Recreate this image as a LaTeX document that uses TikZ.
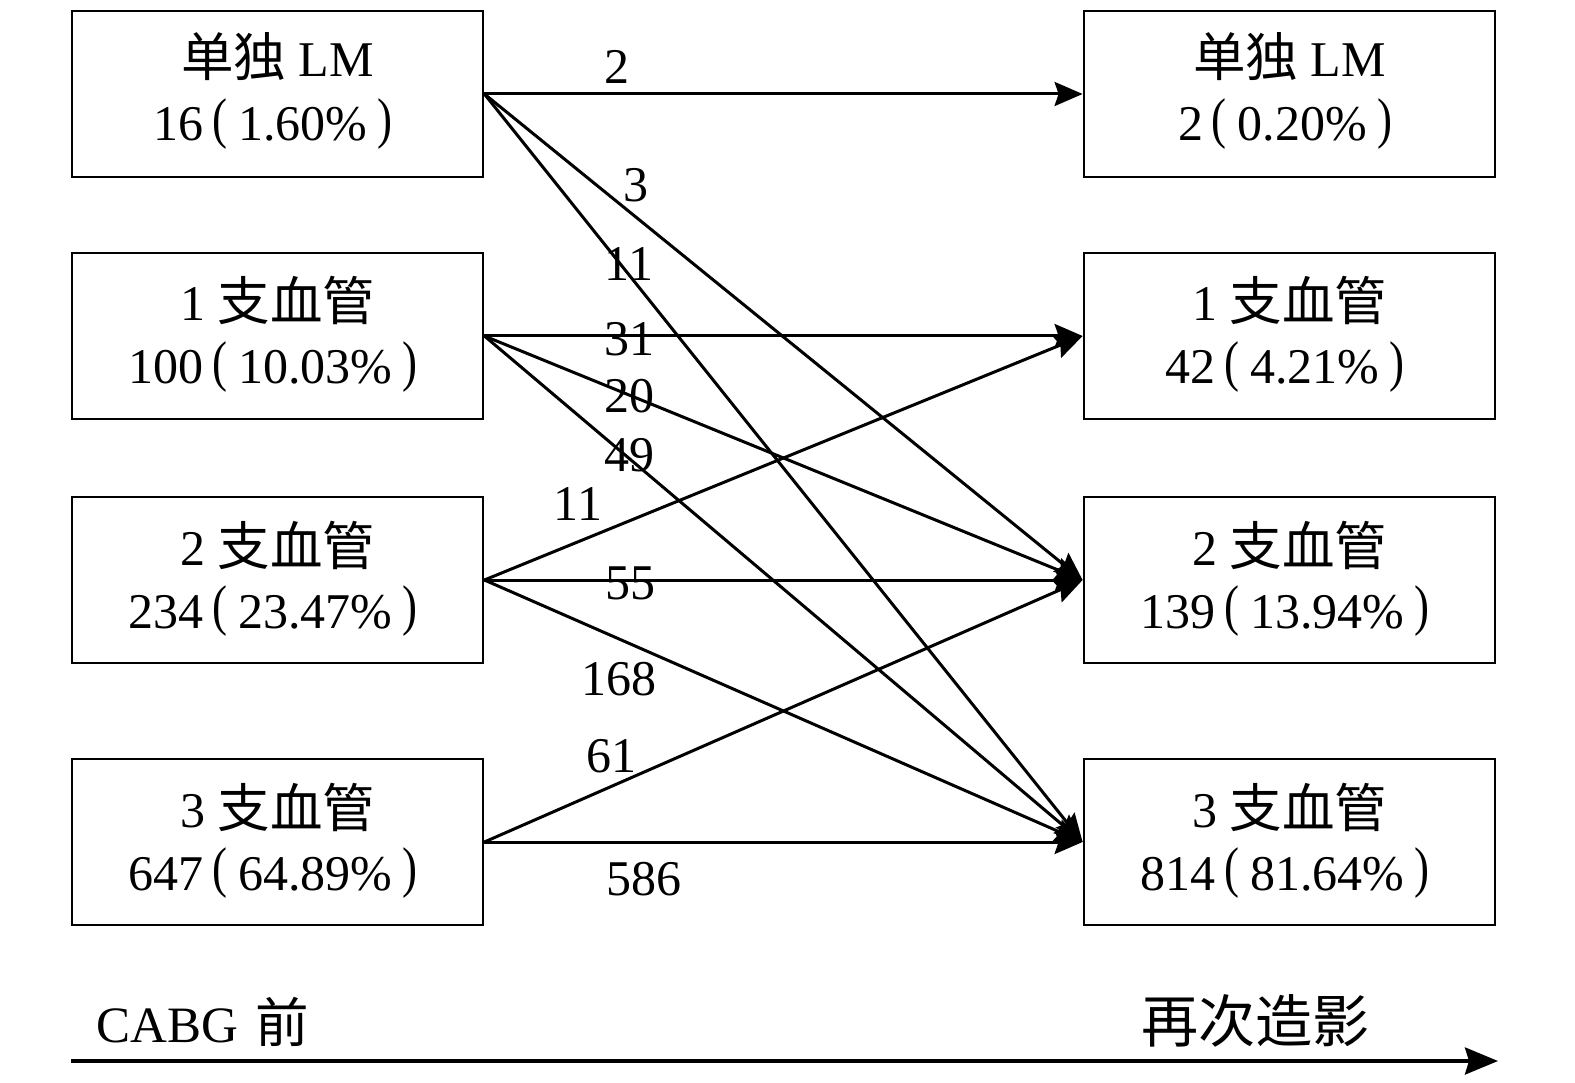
\documentclass[tikz,border=0pt]{standalone}
\usepackage{fontspec}
\setmainfont{Liberation Serif}
\newfontfamily\cjk[Scale=1.05]{Noto Sans CJK SC}
\usetikzlibrary{arrows.meta}
\newcommand\lp{\kern0.17em\raisebox{0.07em}{\scalebox{0.9}[1.12]{(}}\kern0.22em}
\newcommand\rp{\kern0.2em\raisebox{0.07em}{\scalebox{0.9}[1.12]{)}}\kern0.17em}
\begin{document}
\begin{tikzpicture}[x=1pt,y=-1pt,
  box/.style={draw, line width=2.8pt, minimum width=411pt, minimum height=166pt, inner sep=0pt},
  conn/.style={line width=3pt, -{Stealth[length=28pt,width=24pt,inset=4pt]}},
  lab/.style={inner sep=0pt, font=\fontsize{50}{50}\selectfont},
  txt/.style={inner sep=0pt, anchor=base, font=\fontsize{50}{50}\selectfont},
  captext/.style={inner sep=0pt, anchor=base west, font=\fontsize{51}{51}\selectfont}]
\useasboundingbox (0,0) rectangle (1575,1083);
% boxes
\node[box] (L1) at (277.5,94) {};
\node[box] (L2) at (277.5,336) {};
\node[box] (L3) at (277.5,580) {};
\node[box] (L4) at (277.5,842) {};
\node[box] (R1) at (1289.5,94) {};
\node[box] (R2) at (1289.5,336) {};
\node[box] (R3) at (1289.5,580) {};
\node[box] (R4) at (1289.5,842) {};
% box texts
\node[txt] (L1a) at ([yshift=17pt]L1.center) {{\cjk 单独} LM};
\node[txt] (L1b) at ([yshift=-47pt]L1.center) {16\lp 1.60\%\rp};
\node[txt] (L2a) at ([yshift=15pt]L2.center) {1 {\cjk 支血管}};
\node[txt] (L2b) at ([yshift=-48pt]L2.center) {100\lp 10.03\%\rp};
\node[txt] (L3a) at ([yshift=15pt]L3.center) {2 {\cjk 支血管}};
\node[txt] (L3b) at ([yshift=-48pt]L3.center) {234\lp 23.47\%\rp};
\node[txt] (L4a) at ([yshift=15pt]L4.center) {3 {\cjk 支血管}};
\node[txt] (L4b) at ([yshift=-48pt]L4.center) {647\lp 64.89\%\rp};
\node[txt] (R1a) at ([yshift=17pt]R1.center) {{\cjk 单独} LM};
\node[txt] (R1b) at ([yshift=-47pt]R1.center) {2\lp 0.20\%\rp};
\node[txt] (R2a) at ([yshift=15pt]R2.center) {1 {\cjk 支血管}};
\node[txt] (R2b) at ([yshift=-48pt]R2.center) {42\lp 4.21\%\rp};
\node[txt] (R3a) at ([yshift=15pt]R3.center) {2 {\cjk 支血管}};
\node[txt] (R3b) at ([yshift=-48pt]R3.center) {139\lp 13.94\%\rp};
\node[txt] (R4a) at ([yshift=15pt]R4.center) {3 {\cjk 支血管}};
\node[txt] (R4b) at ([yshift=-48pt]R4.center) {814\lp 81.64\%\rp};
% connectors
\draw[conn] (L1.east) -- (R1.west);
\draw[conn] (L1.east) -- (R3.west);
\draw[conn] (L1.east) -- (R4.west);
\draw[conn] (L2.east) -- (R2.west);
\draw[conn] (L2.east) -- (R3.west);
\draw[conn] (L2.east) -- (R4.west);
\draw[conn] (L3.east) -- (R2.west);
\draw[conn] (L3.east) -- (R3.west);
\draw[conn] (L3.east) -- (R4.west);
\draw[conn] (L4.east) -- (R3.west);
\draw[conn] (L4.east) -- (R4.west);
% connector labels
\node[lab] (n2)   at (617,67)  {2};
\node[lab] (n3)   at (636,185) {3};
\node[lab] (n11a) at (629,264) {11};
\node[lab] (n31)  at (629,339) {31};
\node[lab] (n20)  at (629,396) {20};
\node[lab] (n49)  at (629,455) {49};
\node[lab] (n11b) at (578,504) {11};
\node[lab] (n55)  at (630,583) {55};
\node[lab] (n168) at (619,679) {168};
\node[lab] (n61)  at (611,756) {61};
\node[lab] (n586) at (644,879) {586};
% bottom axis
\node[captext] (pre)  at (96,1042) {CABG\hspace{0.35em}{\cjk 前}};
\node[captext] (post) at (1141,1042) {\cjk\addfontfeature{Scale=1.12} 再次造影};
\coordinate (axs) at (71,1061);
\coordinate (axe) at (1498,1061);
\draw[line width=3.5pt, -{Stealth[length=33pt,width=27pt,inset=4pt]}] (axs) -- (axe);
\end{tikzpicture}
\end{document}
